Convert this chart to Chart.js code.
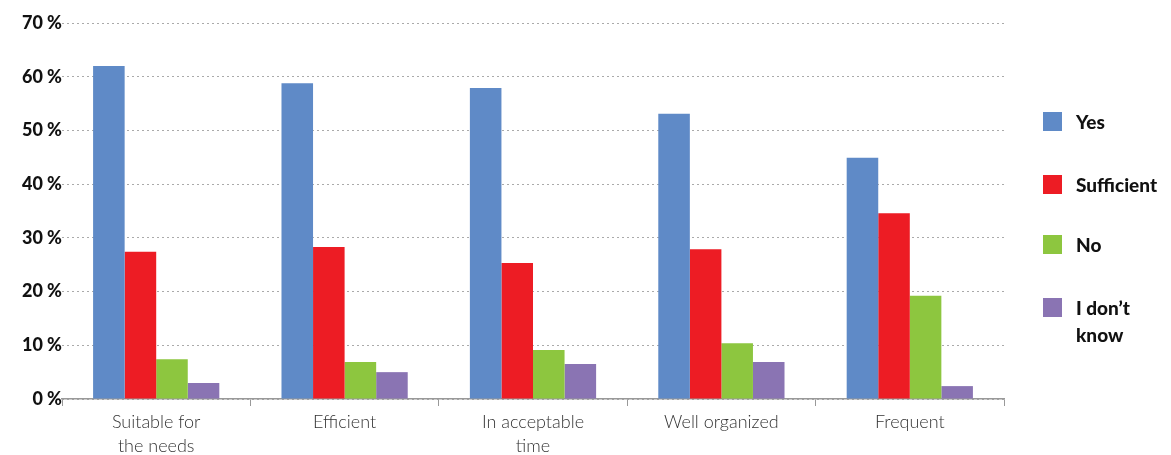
<!DOCTYPE html>
<html>
<head>
<meta charset="utf-8">
<script src="https://cdn.jsdelivr.net/npm/chart.js@4.4.1/dist/chart.umd.min.js"></script>
<style>
    html, body { margin: 0; padding: 0; background: #fff; }
    .wrap { position: relative; width: 1171px; height: 455px; }
    #legend { position: absolute; left: 1043px; top: 0; font-family: Lato, sans-serif; font-weight: 900; font-size: 19px; color: #111; }
    .item { position: absolute; left: 0; display: flex; align-items: flex-start; white-space: nowrap; }
    .box { width: 19px; height: 19px; margin-right: 14px; flex: none; }
    .txt { line-height: 27px; margin-top: -4px; }
</style>
</head>
<body>
<div class="wrap">
    <canvas id="myChart" width="1171" height="455"></canvas>
    <div id="legend"></div>
</div>
<script>
// Data grafik
const categories = [['Suitable for', 'the needs'], 'Efficient', ['In acceptable', 'time'], 'Well organized', 'Frequent'];
const seriesNames = ['Yes', 'Sufficient', 'No', 'I don\u2019t know'];
const legendText = ['Yes', 'Sufficient', 'No', 'I don\u2019t<br>know'];
const yesValues = [62.0, 58.8, 57.9, 53.1, 44.9];
const sufficientValues = [27.4, 28.3, 25.3, 27.9, 34.6];
const noValues = [7.4, 6.9, 9.1, 10.4, 19.2];
const dontKnowValues = [3.0, 5.0, 6.5, 6.9, 2.4];
const yTicks = [0, 10, 20, 30, 40, 50, 60, 70];

const colors = ['#5F8AC7', '#ED1C24', '#8DC63F', '#8A74B3'];
const allValues = [yesValues, sufficientValues, noValues, dontKnowValues];

function chart() {
    const ctx = document.getElementById('myChart').getContext('2d');
    const myChart = new Chart(ctx, {
        type: 'bar',
        data: {
            labels: categories,
            datasets: allValues.map(function (vals, i) {
                return {
                    label: seriesNames[i],
                    data: vals,
                    backgroundColor: colors[i],
                    borderWidth: 0,
                    barPercentage: 1.0,
                    categoryPercentage: 0.67
                };
            })
        },
        options: {
            responsive: false,
            animation: false,
            layout: { padding: { top: 23, right: 167, left: 0, bottom: 0 } },
            plugins: {
                legend: { display: false },
                tooltip: { enabled: false }
            },
            scales: {
                x: {
                    grid: {
                        display: true,
                        drawOnChartArea: false,
                        drawTicks: true,
                        tickLength: 7,
                        color: '#999'
                    },
                    border: { display: true, color: '#999', width: 1.5 },
                    ticks: {
                        color: '#333',
                        padding: 4,
                        font: { family: 'Lato', weight: 300, size: 18, lineHeight: 1.35 }
                    },
                    afterFit: function (scale) { scale.height = 56; }
                },
                y: {
                    min: 0,
                    max: 70,
                    afterBuildTicks: function (scale) {
                        scale.ticks = yTicks.map(function (v) { return { value: v }; });
                    },
                    grid: {
                        color: '#aaa',
                        drawTicks: false,
                        lineWidth: 1
                    },
                    border: { display: false, dash: [2, 3] },
                    ticks: {
                        color: '#111',
                        padding: 0,
                        font: { family: 'Lato', weight: 900, size: 18 },
                        callback: function (v) { return v + ' %'; }
                    },
                    afterFit: function (scale) { scale.width = 62; }
                }
            }
        }
    });

    // legend manual di kanan
    const tops = [112, 175, 235, 298];
    const legend = document.getElementById('legend');
    seriesNames.forEach(function (name, i) {
        const item = document.createElement('div');
        item.className = 'item';
        item.style.top = tops[i] + 'px';
        item.innerHTML = '<span class="box" style="background:' + colors[i] + '"></span><span class="txt">' + legendText[i] + '</span>';
        legend.appendChild(item);
    });
}

window.addEventListener('load', function () {
    chart();
});
</script>
</body>
</html>
